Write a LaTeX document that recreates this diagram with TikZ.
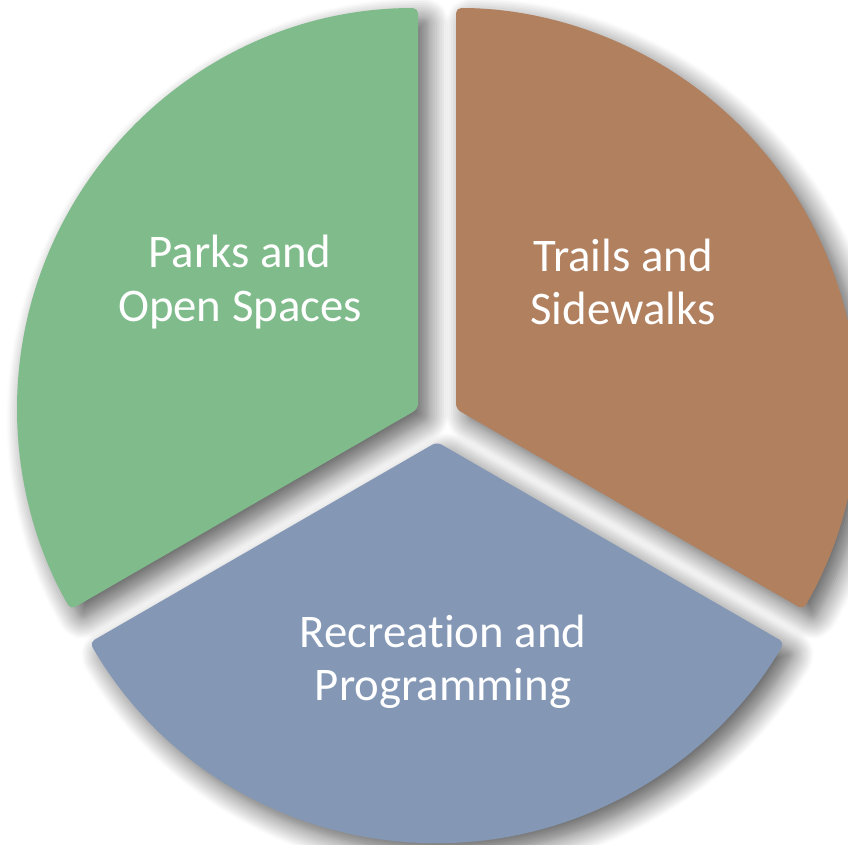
\documentclass[tikz,border=0pt]{standalone}
\usepackage{fontspec}
\setmainfont[Ligatures=NoCommon]{Carlito}
\usetikzlibrary{shadows.blur}
\definecolor{parkgreen}{RGB}{127,187,139}
\definecolor{trailbrown}{RGB}{176,128,95}
\definecolor{recblue}{RGB}{132,152,182}
\def\pieslice[#1](#2)(#3:#4:#5){\fill[#1] (#2) -- ++(#3:#5) arc (#3:#4:#5) -- cycle;}
\tikzset{
  slice/.style={rounded corners=1.5pt, blur shadow={shadow xshift=3pt, shadow yshift=-3pt, shadow blur radius=6pt, shadow blur steps=12, shadow opacity=65}},
  pietext/.style={text=white, align=center, font=\fontsize{13.3}{15.2}\selectfont}
}

\begin{document}
\begin{tikzpicture}[x=0.01cm, y=0.01cm]
			%%%%% START %%%%%
			\useasboundingbox (0, 0) rectangle (848, 845);
			
			\pieslice[slice, fill=parkgreen](418, 436)(90:210:401);
			\pieslice[slice, fill=trailbrown](456, 436)(-30:90:401);
			\pieslice[slice, fill=recblue](437, 403)(210:330:401);
			
			\node[pietext] (parks) at (240, 563) {Parks and\\Open Spaces};
			\node[pietext] (trails) at (623, 563) {Trails and\\Sidewalks};
			\node[pietext] (recreation) at (443, 183) {Recreation and\\Programming};
			%%%%% END %%%%%
\end{tikzpicture}
\end{document}
